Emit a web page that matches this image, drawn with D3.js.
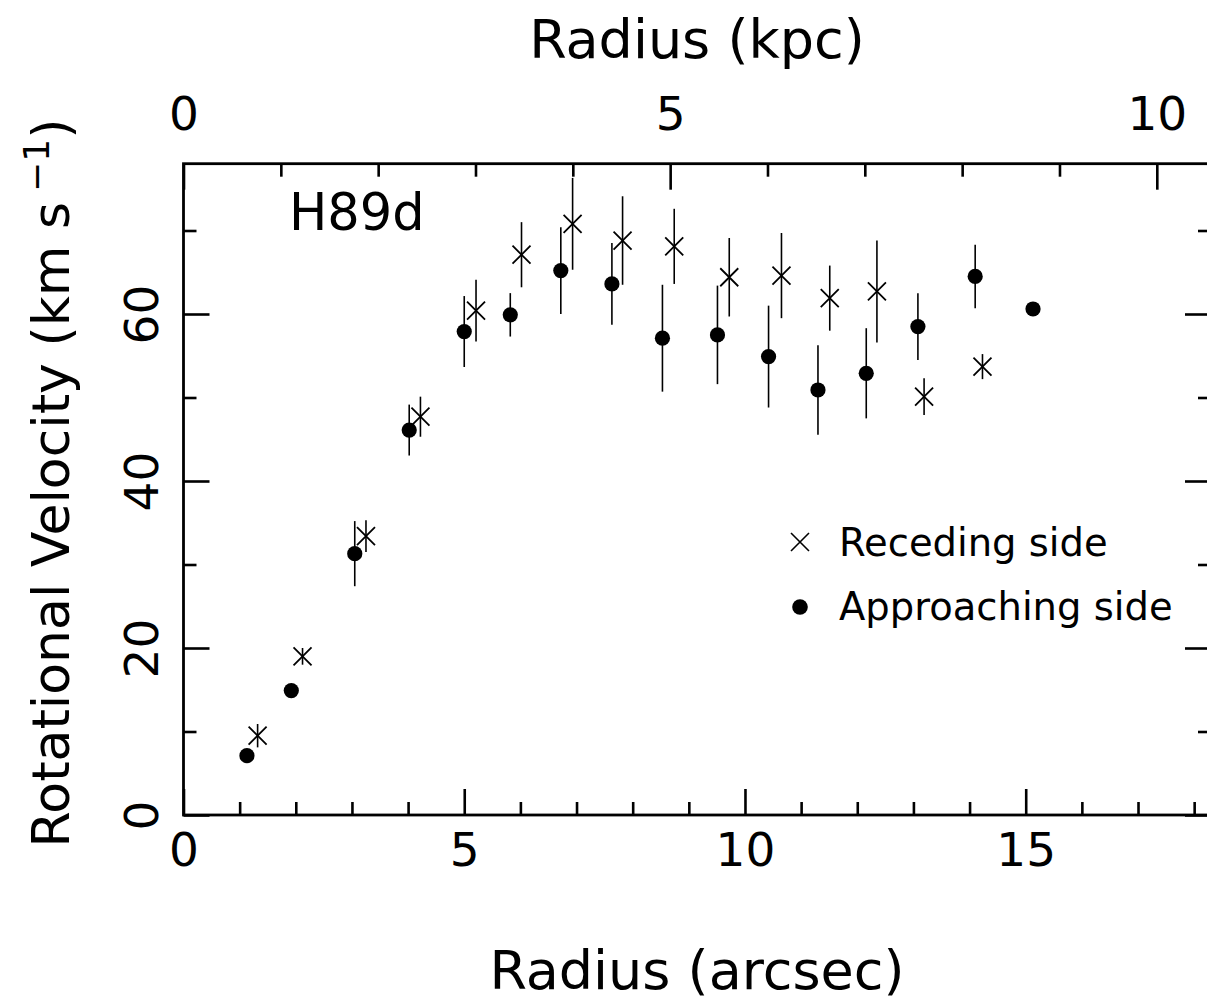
<!DOCTYPE html>
<html><head><meta charset="utf-8">
<script src="https://cdn.jsdelivr.net/npm/d3@7"></script>
<style>
body{margin:0;background:#fff}
svg text{font-family:"DejaVu Sans",sans-serif;fill:#000}
</style>
</head><body>
<svg id="c" width="1207" height="1002"></svg>
<script>
// ---- data ----
const appRadius = [1.13,1.92,3.05,4.02,5.00,5.82,6.72,7.63,8.53,9.51,10.42,11.30,12.16,13.08,14.10,15.13];
const appVel    = [7.1,14.9,31.3,46.1,57.9,59.9,65.2,63.6,57.1,57.5,54.9,50.9,52.9,58.5,64.5,60.6];
const appErr    = [0,0,3.9,3.05,4.25,2.6,5.2,4.9,6.4,5.9,6.1,5.35,5.4,4.0,3.8,0];

const recRadius = [1.32,2.12,3.25,4.22,5.21,6.02,6.93,7.82,8.74,9.72,10.65,11.51,12.35,13.19,14.23];
const recVel    = [9.5,19.0,33.4,47.7,60.4,67.1,70.8,68.8,68.1,64.4,64.6,61.9,62.7,50.1,53.7];
const recErr    = [1.4,1.0,1.9,2.4,3.7,3.9,5.5,5.3,4.5,4.7,5.1,3.9,6.1,2.2,1.5];

const xMajorTicks = [0,5,10,15];
const xMinorTicks = [1,2,3,4,6,7,8,9,11,12,13,14,16,17,18];
const kpcMajorTicks = [0,5,10];
const kpcMinorTicks = [1,2,3,4,6,7,8,9];
const yMajorTicks = [0,20,40,60];
const yMinorTicks = [10,30,50,70];
const arcsecPerKpc = 1.7335;
const xMax = 18.3, yMax = 78;
const legendItems = ["Receding side","Approaching side"];

// ---- scales ----
const svg = d3.select("#c");
const x = d3.scaleLinear().domain([0,xMax]).range([183.5,1211]);
const xk = d3.scaleLinear().domain([0,xMax/arcsecPerKpc]).range([183.5,1211]);
const y = d3.scaleLinear().domain([0,yMax]).range([815,163.7]);
const L=x.range()[0], R=x.range()[1], B=y.range()[0], T=y.range()[1];

function styleAxis(g){
  g.select(".domain").remove();
  g.selectAll(".tick line").attr("stroke","#000").attr("stroke-width",2.6);
}
// bottom
svg.append("g").attr("transform",`translate(0,${B})`)
  .call(d3.axisBottom(x).tickValues(xMinorTicks).tickSize(-13).tickFormat("")).call(styleAxis);
const gb = svg.append("g").attr("transform",`translate(0,${B})`)
  .call(d3.axisBottom(x).tickValues(xMajorTicks).tickSize(-26).tickFormat(d3.format("d"))).call(styleAxis);
gb.selectAll("text").attr("y",51).attr("dy",0).attr("font-size",47).attr("fill","#000");
// top
svg.append("g").attr("transform",`translate(0,${T})`)
  .call(d3.axisTop(xk).tickValues(kpcMinorTicks).tickSize(-13).tickFormat("")).call(styleAxis);
const gt = svg.append("g").attr("transform",`translate(0,${T})`)
  .call(d3.axisTop(xk).tickValues(kpcMajorTicks).tickSize(-26).tickFormat(d3.format("d"))).call(styleAxis);
gt.selectAll("text").attr("y",-34).attr("dy",0).attr("font-size",47).attr("fill","#000");
// left
svg.append("g").attr("transform",`translate(${L},0)`)
  .call(d3.axisLeft(y).tickValues(yMinorTicks).tickSize(-13).tickFormat("")).call(styleAxis);
const gl = svg.append("g").attr("transform",`translate(${L},0)`)
  .call(d3.axisLeft(y).tickValues(yMajorTicks).tickSize(-26).tickFormat(d3.format("d"))).call(styleAxis);
gl.selectAll("text").attr("x",0).attr("dy",0).attr("text-anchor","middle")
  .attr("font-size",47).attr("fill","#000").attr("transform","translate(-26,0) rotate(-90)");
// right
svg.append("g").attr("transform",`translate(${R},0)`)
  .call(d3.axisRight(y).tickValues(yMinorTicks).tickSize(-13).tickFormat("")).call(styleAxis);
svg.append("g").attr("transform",`translate(${R},0)`)
  .call(d3.axisRight(y).tickValues(yMajorTicks).tickSize(-26).tickFormat("")).call(styleAxis);

// frame
svg.append("rect").attr("x",L).attr("y",T).attr("width",R-L).attr("height",B-T)
  .attr("fill","none").attr("stroke","#000").attr("stroke-width",2.8);

// titles
svg.append("text").attr("x",697).attr("y",989).attr("text-anchor","middle").attr("font-size",54).text("Radius (arcsec)");
svg.append("text").attr("x",697).attr("y",58).attr("text-anchor","middle").attr("font-size",54).text("Radius (kpc)");
const yt = svg.append("text").attr("transform","translate(69,483) rotate(-90)").attr("text-anchor","middle").attr("font-size",52);
yt.append("tspan").text("Rotational Velocity (km s");
yt.append("tspan").attr("dx",10).attr("dy",-20).attr("font-size",36).text("−1");
yt.append("tspan").attr("dy",20).text(")");
svg.append("text").attr("x",289).attr("y",230).attr("font-size",51).text("H89d");

// data
const app = appRadius.map((r,i)=>({r,v:appVel[i],e:appErr[i]}));
const rec = recRadius.map((r,i)=>({r,v:recVel[i],e:recErr[i]}));
const gd = svg.append("g");
gd.selectAll(".ea").data(app.filter(d=>d.e>0)).join("line")
  .attr("x1",d=>x(d.r)).attr("x2",d=>x(d.r)).attr("y1",d=>y(d.v-d.e)).attr("y2",d=>y(d.v+d.e))
  .attr("stroke","#000").attr("stroke-width",1.6);
gd.selectAll(".er").data(rec.filter(d=>d.e>0)).join("line")
  .attr("x1",d=>x(d.r)).attr("x2",d=>x(d.r)).attr("y1",d=>y(d.v-d.e)).attr("y2",d=>y(d.v+d.e))
  .attr("stroke","#000").attr("stroke-width",1.6);
gd.selectAll(".dot").data(app).join("circle")
  .attr("cx",d=>x(d.r)).attr("cy",d=>y(d.v)).attr("r",7.6).attr("fill","#000");
const cs=9;
gd.selectAll(".cross").data(rec).join("path")
  .attr("d",d=>{const cx=x(d.r),cy=y(d.v);return `M${cx-cs},${cy-cs}L${cx+cs},${cy+cs}M${cx-cs},${cy+cs}L${cx+cs},${cy-cs}`;})
  .attr("stroke","#000").attr("stroke-width",1.8).attr("fill","none");

// legend
const lg = svg.append("g");
lg.append("path").attr("d",`M${800-9},${542-9}L${800+9},${542+9}M${800-9},${542+9}L${800+9},${542-9}`)
  .attr("stroke","#000").attr("stroke-width",1.6);
lg.append("circle").attr("cx",800).attr("cy",607).attr("r",7.8).attr("fill","#000");
lg.selectAll("text").data(legendItems).join("text")
  .attr("x",839).attr("y",(d,i)=>556+i*64).attr("font-size",38.5).text(d=>d);
</script>
</body></html>
